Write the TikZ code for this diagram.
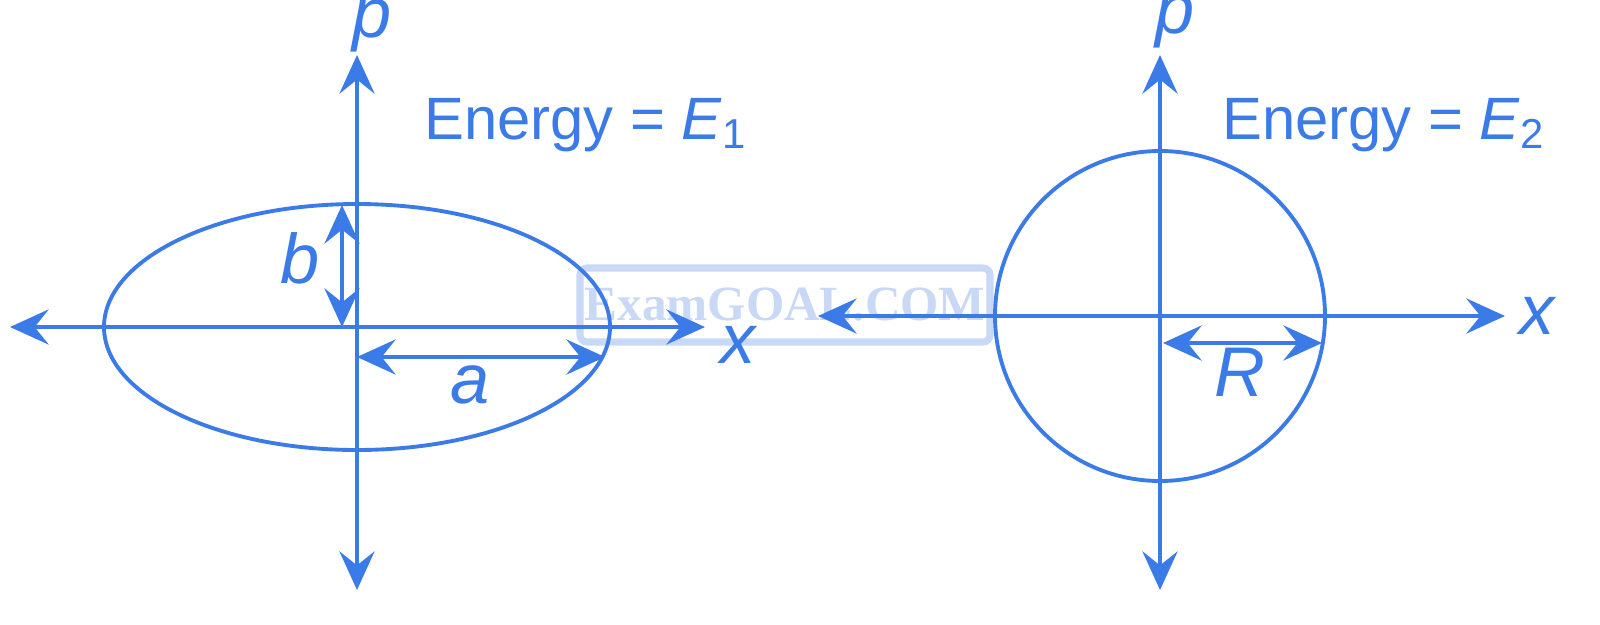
\documentclass[tikz,border=0pt]{standalone}
\usepackage{fontspec}
\setmainfont{Liberation Sans}
\usetikzlibrary{arrows.meta}
\definecolor{bl}{HTML}{3B7BE8}
\definecolor{wm}{HTML}{C8D8F5}
\begin{document}
\begin{tikzpicture}[x=0.01cm,y=-0.01cm,
  ln/.style={bl,line width=1.1pt},
  ar/.style={ln,{Stealth[length=11pt,width=10pt,inset=4pt]}-{Stealth[length=11pt,width=10pt,inset=4pt]}},
  lb/.style={bl,font=\fontsize{20}{22}\selectfont\itshape},
  en/.style={bl,font=\fontsize{17}{20}\selectfont}]
\useasboundingbox (0,0) rectangle (1600,624);
% watermark
\draw[wm,line width=2pt,rounded corners=2pt] (580,268) rectangle (990,342);
\node[text=wm,font=\fontspec{Liberation Serif}\fontsize{14}{16}\selectfont\bfseries] (wmt) at (785,305) {ExamGOAL.COM};
% left
\coordinate (l1) at (10,327); \coordinate (l2) at (705,327);
\coordinate (l3) at (357,55); \coordinate (l4) at (357,590);
\draw[ar] (l1) -- (l2);
\draw[ar] (l3) -- (l4);
\draw[ln] (357,327) ellipse [x radius=253, y radius=123];
\coordinate (b1) at (342,205); \coordinate (b2) at (342,327);
\draw[ar] (b1) -- (b2);
\coordinate (a1) at (357,357); \coordinate (a2) at (605,357);
\draw[ar] (a1) -- (a2);
\node[lb] (b) at (300,258) {b};
\node[lb] (a) at (470,385) {a};
\node[lb] (xl) at (738,345) {x};
\node[lb] (pl) at (372,26) {p};
\node[en,anchor=west] (e1) at (412,125) {Energy = \textit{E}\textsubscript{1}};
% right
\coordinate (r1) at (818,316); \coordinate (r2) at (1505,316);
\coordinate (r3) at (1160,55); \coordinate (r4) at (1160,590);
\draw[ar] (r1) -- (r2);
\draw[ar] (r3) -- (r4);
\draw[ln] (1160,316) ellipse [x radius=165, y radius=165];
\coordinate (R1) at (1163,343); \coordinate (R2) at (1322,343);
\draw[ar] (R1) -- (R2);
\node[lb] (R) at (1240,372) {R};
\node[lb] (xr) at (1537,316) {x};
\node[lb] (pr) at (1175,22) {p};
\node[en,anchor=west] (e2) at (1210,125) {Energy = \textit{E}\textsubscript{2}};
\end{tikzpicture}
\end{document}
